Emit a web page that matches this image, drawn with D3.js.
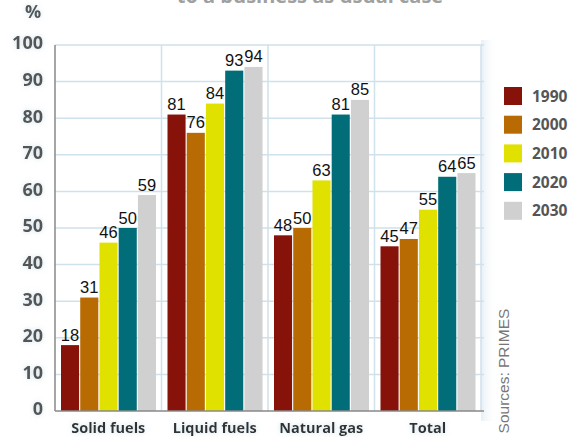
<!DOCTYPE html>
<html><head><meta charset="utf-8">
<script src="https://cdn.jsdelivr.net/npm/d3@7"></script>
<style>body{margin:0;background:#fff}svg{display:block}</style>
</head><body>
<script>
const categories = ["Solid fuels", "Liquid fuels", "Natural gas", "Total"];
const years = ["1990", "2000", "2010", "2020", "2030"];
const v1990 = [18, 81, 48, 45];
const v2000 = [31, 76, 50, 47];
const v2010 = [46, 84, 63, 55];
const v2020 = [50, 93, 81, 64];
const v2030 = [59, 94, 85, 65];
const yTicks = [0, 10, 20, 30, 40, 50, 60, 70, 80, 90, 100];
const colors = ["#86120a", "#b86b02", "#e1e100", "#006d78", "#d0d0d0"];
const series = [v1990, v2000, v2010, v2020, v2030];

const W = 570, H = 437;
const svg = d3.select("body").append("svg").attr("width", W).attr("height", H);
const defs = svg.append("defs");
const f = defs.append("filter").attr("id", "glow").attr("x", "-20%").attr("y", "-20%").attr("width", "140%").attr("height", "140%");
f.append("feGaussianBlur").attr("in", "SourceAlpha").attr("stdDeviation", 2.5).attr("result", "b");
f.append("feFlood").attr("flood-color", "#b9d3e0").attr("flood-opacity", 0.7);
f.append("feComposite").attr("in2", "b").attr("operator", "in").attr("result", "s");
const fm = f.append("feMerge"); fm.append("feMergeNode").attr("in", "s"); fm.append("feMergeNode").attr("in", "SourceGraphic");
const grad = defs.append("linearGradient").attr("id", "side").attr("x1", 0).attr("x2", 1);
grad.append("stop").attr("offset", 0).attr("stop-color", "#e3eef4").attr("stop-opacity", 0.9);
grad.append("stop").attr("offset", 1).attr("stop-color", "#ffffff").attr("stop-opacity", 0);

const L = 55, R = 481, T = 45, B = 411;
const x0 = d3.scaleBand().domain(categories).range([L, R]).padding(0);
const x1 = d3.scaleBand().domain(years).range([6, x0.bandwidth() - 5.5]).paddingInner(0.06).paddingOuter(0);
const y = d3.scaleLinear().domain([0, 100]).range([B, T]);

// side shading
svg.append("rect").attr("x", R).attr("y", T - 5).attr("width", 16).attr("height", B - T + 15).attr("fill", "url(#side)");

// title (cropped as in reference)
svg.append("text").attr("x", 310).attr("y", 3).attr("text-anchor", "middle")
  .attr("font-family", "Open Sans").attr("font-weight", 700).attr("font-size", 20).attr("fill", "#a0a0a0")
  .text("to a business as usual case");

// gridlines
const g = svg.append("g");
g.selectAll("line.h").data(yTicks.filter(d => d > 0)).join("line")
  .attr("x1", L).attr("x2", R + 3).attr("y1", d => y(d)).attr("y2", d => y(d))
  .attr("stroke", "#cfe1ea").attr("stroke-width", 1.5);
g.selectAll("line.v").data(categories).join("line")
  .attr("x1", d => x0(d) + x0.bandwidth()).attr("x2", d => x0(d) + x0.bandwidth())
  .attr("y1", T).attr("y2", B).attr("stroke", "#cfe1ea").attr("stroke-width", 1.5);

// bars
const bars = svg.append("g");
categories.forEach((c, ci) => {
  years.forEach((yr, yi) => {
    const val = series[yi][ci];
    const bx = x0(c) + x1(yr);
    bars.append("rect").attr("x", bx).attr("y", y(val)).attr("width", x1.bandwidth()).attr("height", B - y(val))
      .attr("fill", colors[yi]);
    bars.append("text").attr("x", bx + x1.bandwidth() / 2).attr("y", y(val) - 4.5).attr("text-anchor", "middle")
      .attr("font-family", "Liberation Sans, Arial").attr("font-size", 16.5).attr("fill", "#111").text(val);
  });
});

// axes lines
svg.append("line").attr("x1", L).attr("x2", L).attr("y1", T).attr("y2", B).attr("stroke", "#888").attr("stroke-width", 1.5);
svg.append("line").attr("x1", L).attr("x2", R + 3).attr("y1", B).attr("y2", B).attr("stroke", "#888").attr("stroke-width", 1.5);

// y tick labels via axis
const yAxis = d3.axisLeft(y).tickValues(yTicks).tickSize(0).tickPadding(0);
const ya = svg.append("g").attr("transform", `translate(${L - 12},0)`).call(yAxis);
ya.select(".domain").remove();
ya.selectAll("text").attr("font-family", "Open Sans").attr("font-weight", 700).attr("font-size", 18)
  .attr("fill", "#555").attr("dy", "0.22em").attr("filter", "url(#glow)");

svg.append("text").attr("x", 33).attr("y", 18).attr("text-anchor", "middle")
  .attr("font-family", "Open Sans").attr("font-weight", 700).attr("font-size", 18).attr("fill", "#555")
  .attr("filter", "url(#glow)").text("%");

// x axis labels
const xAxis = d3.axisBottom(x0).tickSize(0).tickPadding(0);
const xa = svg.append("g").attr("transform", `translate(0,${B})`).call(xAxis);
xa.select(".domain").remove();
xa.selectAll("text").attr("font-family", "Open Sans").attr("font-weight", 700).attr("font-size", 14.5)
  .attr("fill", "#333").attr("y", 22).attr("dy", 0).attr("filter", "url(#glow)");

// legend
const lg = svg.append("g");
years.forEach((yr, i) => {
  const ly = 87 + i * 28.7;
  lg.append("rect").attr("x", 504).attr("y", ly).attr("width", 18).attr("height", 18).attr("fill", colors[i]);
  lg.append("text").attr("x", 532).attr("y", ly + 9).attr("dy", "0.36em")
    .attr("font-family", "Open Sans").attr("font-weight", 700).attr("font-size", 15.5).attr("fill", "#555").text(yr);
});

// source
svg.append("text").attr("transform", "translate(509,371) rotate(-90)").attr("text-anchor", "middle")
  .attr("font-family", "Liberation Sans, Arial").attr("font-size", 15.5).attr("fill", "#777").text("Sources: PRIMES");
</script>
</body></html>
